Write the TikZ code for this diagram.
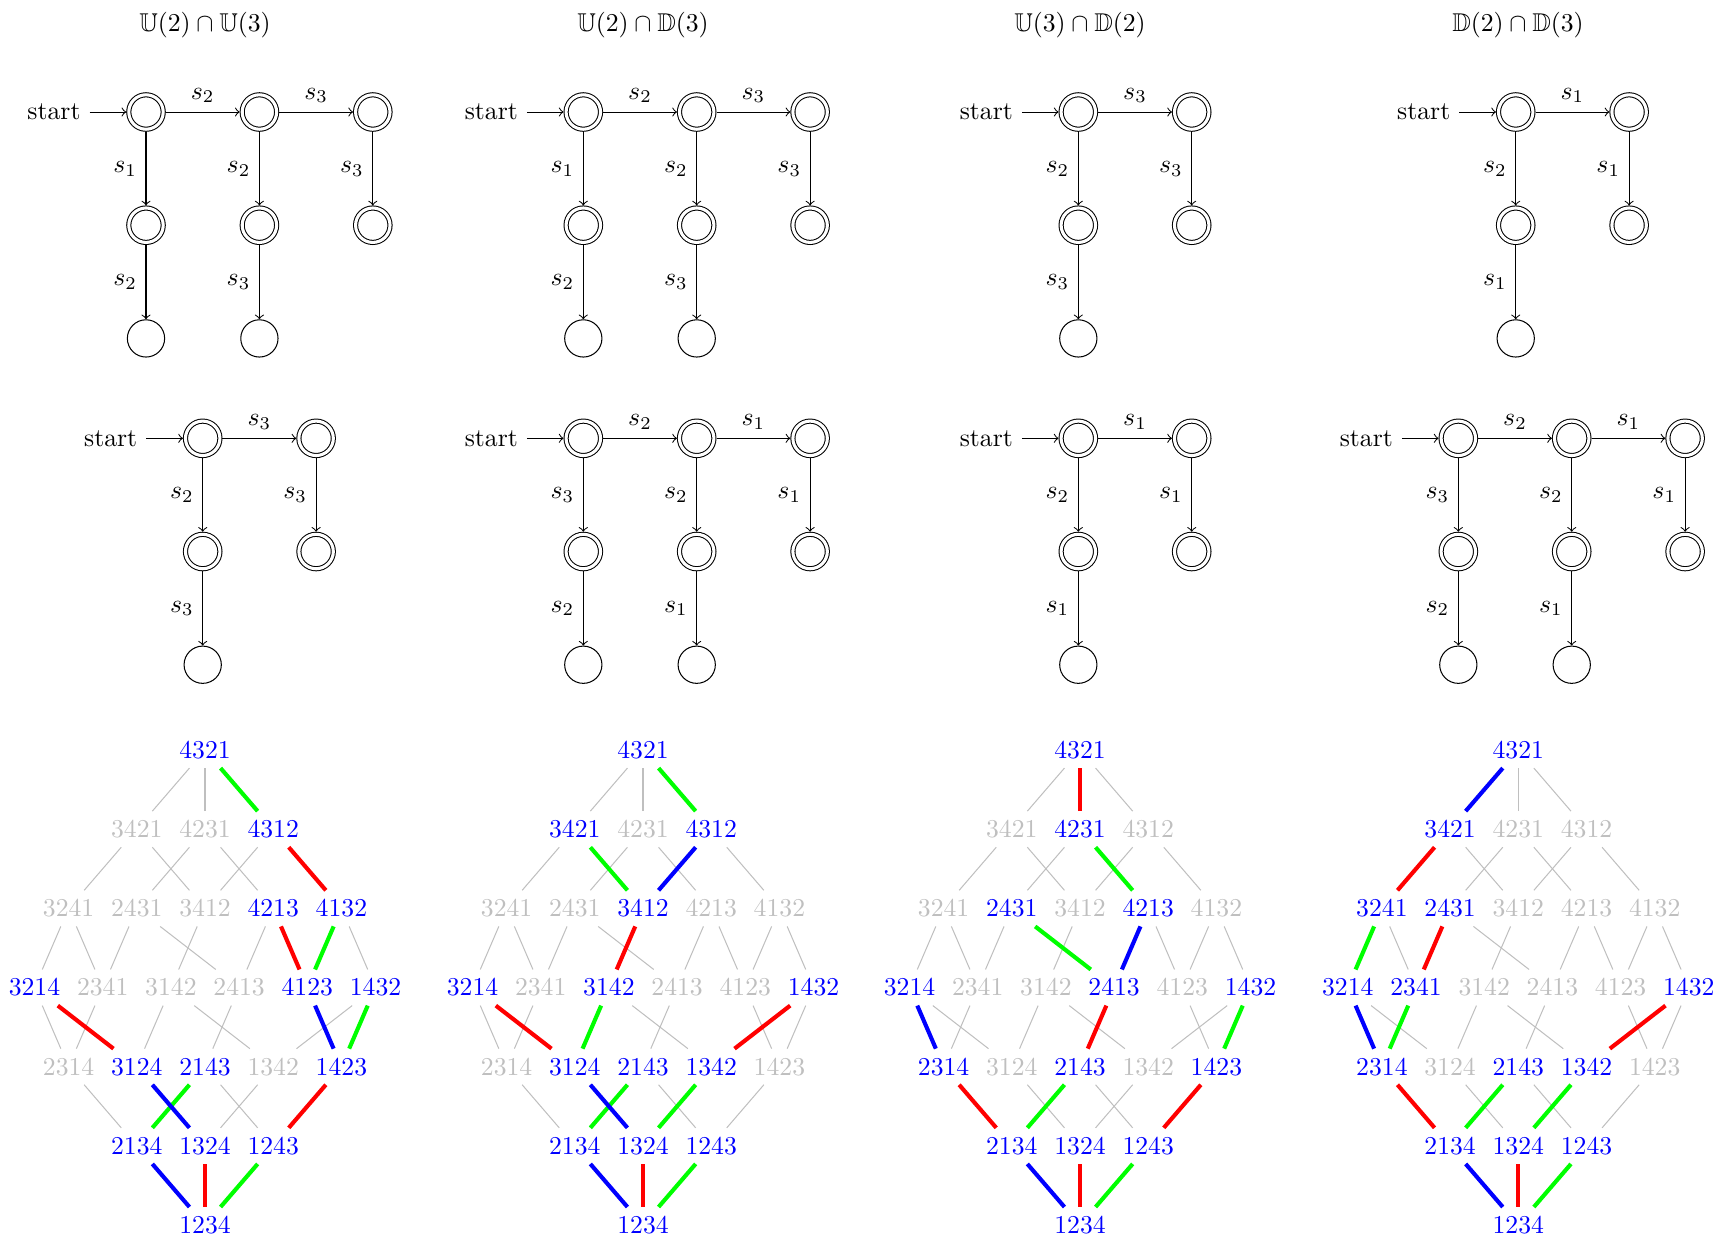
\documentclass[tikz,border=0pt]{standalone}
\usepackage{amssymb}
\colorlet{c1}{blue}
\colorlet{c2}{red}
\colorlet{c3}{green}
\tikzset{
  perm/.style={inner sep=3.333pt},
  gedge/.style={draw=lightgray, line width=0.4pt},
  hledge/.style={line width=1.6pt},
  st/.style={circle, draw, minimum size=14.5pt, inner sep=0pt, line width=0.4pt},
  acc/.style={st, double, double distance=1.2pt, minimum size=13.4pt, outer sep=1pt},
  tr/.style={->, line width=0.4pt},
}
\def\latedges{1234/2134/1,1234/1324/2,1234/1243/3,
2134/2314/2,2134/2143/3,1324/3124/1,1324/1342/3,1243/2143/1,1243/1423/2,
2314/3214/1,2314/2341/3,3124/3214/2,3124/3142/3,2143/2413/2,1342/3142/1,1342/1432/2,1423/4123/1,1423/1432/3,
3214/3241/3,2341/3241/1,2341/2431/2,3142/3412/2,2413/4213/1,2413/2431/3,4123/4213/2,4123/4132/3,1432/4132/1,
3241/3421/2,2431/4231/1,3412/4312/1,3412/3421/3,4213/4231/3,4132/4312/2,
3421/4321/1,4231/4321/2,4312/4321/3}
\makeatletter
\newcommand\drawlattice[4]{%
  \foreach \p/\dx/\r in {4321/0/0,3421/-2/1,4231/0/1,4312/2/1,3241/-4/2,2431/-2/2,3412/0/2,4213/2/2,4132/4/2,3214/-5/3,2341/-3/3,3142/-1/3,2413/1/3,4123/3/3,1432/5/3,2314/-4/4,3124/-2/4,2143/0/4,1342/2/4,1423/4/4,2134/-2/5,1324/0/5,1243/2/5,1234/0/6}{%
    \edef\lat@tmp{\noexpand\in@{,\p,}{,#3,}}\lat@tmp
    \ifin@\def\lat@col{blue}\else\def\lat@col{lightgray}\fi
    \node[perm, text=\lat@col] (#1-\p) at ({#2+34.1*\dx},{750+79.17*\r}) {\p};
  }%
  \foreach \a/\b/\g in \latedges {%
    \edef\lat@tmp{\noexpand\in@{,\a-\b,}{,#4,}}\lat@tmp
    \ifin@\else\draw[gedge] (#1-\a) -- (#1-\b);\fi
  }%
  \foreach \a/\b/\g in \latedges {%
    \edef\lat@tmp{\noexpand\in@{,\a-\b,}{,#4,}}\lat@tmp
    \ifin@\draw[hledge, draw=c\g] (#1-\a) -- (#1-\b);\fi
  }%
}
\makeatother
\newcommand\bigaut[8]{%
  \node[acc] (#1q0) at (0,0) {};
  \node[acc] (#1q1) at (113.4,0) {};
  \node[acc] (#1q2) at (226.8,0) {};
  \node[acc] (#1q3) at (0,113.2) {};
  \node[acc] (#1q4) at (113.4,113.2) {};
  \node[acc] (#1q5) at (226.8,113.2) {};
  \node[st] (#1q6) at (0,226.4) {};
  \node[st] (#1q7) at (113.4,226.4) {};
  \node (#1s) at (-92,0) {start};
  \draw[tr] (#1s) -- (#1q0);
  \draw[tr] (#1q0) -- node[above] {$s_{#2}$} (#1q1);
  \draw[tr] (#1q1) -- node[above] {$s_{#3}$} (#1q2);
  \draw[tr] (#1q0) -- node[left] {$s_{#4}$} (#1q3);
  \draw[tr] (#1q1) -- node[left] {$s_{#5}$} (#1q4);
  \draw[tr] (#1q2) -- node[left] {$s_{#6}$} (#1q5);
  \draw[tr] (#1q3) -- node[left] {$s_{#7}$} (#1q6);
  \draw[tr] (#1q4) -- node[left] {$s_{#8}$} (#1q7);
}
\newcommand\smallaut[5]{%
  \node[acc] (#1q0) at (0,0) {};
  \node[acc] (#1q1) at (113.4,0) {};
  \node[acc] (#1q3) at (0,113.2) {};
  \node[acc] (#1q4) at (113.4,113.2) {};
  \node[st] (#1q6) at (0,226.4) {};
  \node (#1s) at (-92,0) {start};
  \draw[tr] (#1s) -- (#1q0);
  \draw[tr] (#1q0) -- node[above] {$s_{#2}$} (#1q1);
  \draw[tr] (#1q0) -- node[left] {$s_{#3}$} (#1q3);
  \draw[tr] (#1q1) -- node[left] {$s_{#4}$} (#1q4);
  \draw[tr] (#1q3) -- node[left] {$s_{#5}$} (#1q6);
}
\begin{document}
\begin{tikzpicture}[x=0.3891pt,y=-0.3891pt]
\useasboundingbox (0,0) rectangle (1718,1238);
% titles
\node (t1) at (205,25) {$\mathbb{U}(2)\cap\mathbb{U}(3)$};
\node (t2) at (643,25) {$\mathbb{U}(2)\cap\mathbb{D}(3)$};
\node (t3) at (1080,25) {$\mathbb{U}(3)\cap\mathbb{D}(2)$};
\node (t4) at (1518,25) {$\mathbb{D}(2)\cap\mathbb{D}(3)$};
% automata, first row
\begin{scope}[shift={(146,112)}]\bigaut{a1}{2}{3}{1}{2}{3}{2}{3}\end{scope}
\begin{scope}[shift={(583.3,112)}]\bigaut{a2}{2}{3}{1}{2}{3}{2}{3}\end{scope}
\begin{scope}[shift={(1078.3,112)}]\smallaut{a3}{3}{2}{3}{3}\end{scope}
\begin{scope}[shift={(1515.7,112)}]\smallaut{a4}{1}{2}{1}{1}\end{scope}
% automata, second row
\begin{scope}[shift={(202.7,438.3)}]\smallaut{b1}{3}{2}{3}{3}\end{scope}
\begin{scope}[shift={(583.3,438.3)}]\bigaut{b2}{2}{1}{3}{2}{1}{2}{1}\end{scope}
\begin{scope}[shift={(1078.3,438.3)}]\smallaut{b3}{1}{2}{1}{1}\end{scope}
\begin{scope}[shift={(1458.3,438.3)}]\bigaut{b4}{2}{1}{3}{2}{1}{2}{1}\end{scope}
% lattices
\drawlattice{L1}{205}{4321,4312,4213,4132,3214,4123,1432,3124,2143,1423,2134,1324,1243,1234}{4312-4321,4132-4312,4123-4213,4123-4132,1423-4123,1423-1432,3124-3214,1324-3124,2134-2143,1243-1423,1234-2134,1234-1324,1234-1243}
\drawlattice{L2}{643}{4321,3421,4312,3412,3214,3142,1432,3124,2143,1342,2134,1324,1243,1234}{4312-4321,3412-3421,3412-4312,3142-3412,3124-3214,3124-3142,1342-1432,1324-3124,2134-2143,1324-1342,1234-2134,1234-1324,1234-1243}
\drawlattice{L3}{1080}{4321,4231,2431,4213,3214,2413,1432,2314,2143,1423,2134,1324,1243,1234}{4231-4321,4213-4231,2413-2431,2413-4213,2314-3214,2143-2413,1423-1432,2134-2314,2134-2143,1243-1423,1234-2134,1234-1324,1234-1243}
\drawlattice{L4}{1518.3}{4321,3421,3241,2431,3214,2341,1432,2314,2143,1342,2134,1324,1243,1234}{3421-4321,3241-3421,3214-3241,2341-2431,2314-3214,2314-2341,1342-1432,2134-2314,2134-2143,1324-1342,1234-2134,1234-1324,1234-1243}
\end{tikzpicture}
\end{document}
